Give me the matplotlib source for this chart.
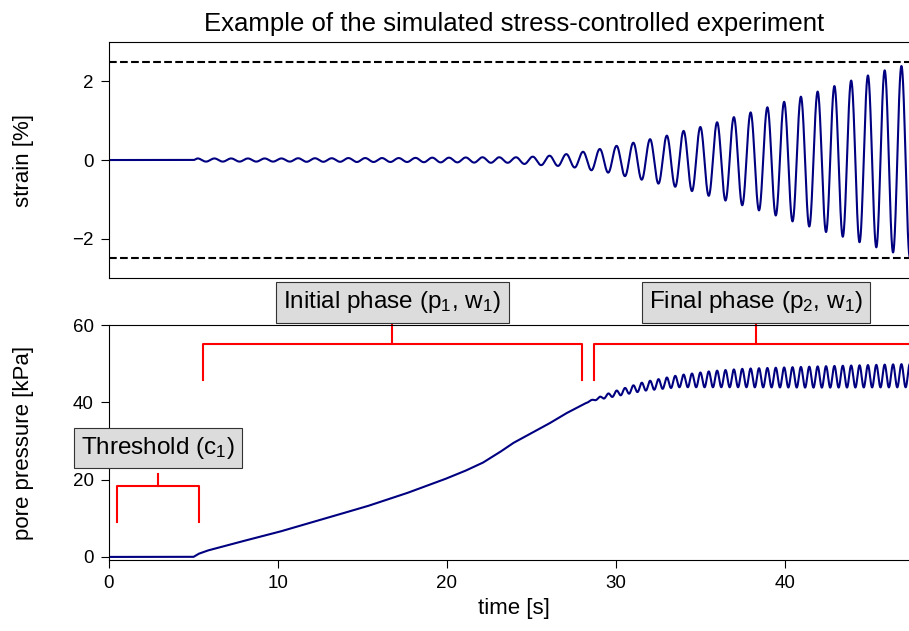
import numpy as np
import matplotlib
matplotlib.use("Agg")
import matplotlib.pyplot as plt
from itertools import zip_longest

plt.rcParams['font.family'] = ['Liberation Sans', 'DejaVu Sans']
plt.rcParams['mathtext.default'] = 'regular'

# strain: loading starts at 5 s, one cycle per period, peak / trough of each cycle [%]
t_load = 5.0
period = 0.992
strain_peaks = [0.04, 0.04, 0.04, 0.04, 0.04, 0.04, 0.045, 0.045, 0.045, 0.05,
                0.05, 0.05, 0.05, 0.055, 0.06, 0.06, 0.065, 0.07,
                0.07, 0.07, 0.085, 0.11, 0.15, 0.21, 0.28, 0.36, 0.44, 0.53,
                0.62, 0.74, 0.84, 0.96, 1.09, 1.21, 1.34, 1.48, 1.61, 1.74,
                1.88, 2.02, 2.15, 2.28, 2.39, 2.5]
strain_troughs = [-0.04, -0.04, -0.04, -0.04, -0.04, -0.04, -0.045, -0.045, -0.045, -0.05,
                  -0.05, -0.05, -0.05, -0.055, -0.06, -0.06, -0.065, -0.07,
                  -0.07, -0.10, -0.13, -0.15, -0.19, -0.26, -0.32, -0.41, -0.50, -0.60,
                  -0.68, -0.79, -0.91, -1.03, -1.15, -1.28, -1.41, -1.56, -1.69, -1.83,
                  -1.95, -2.09, -2.22, -2.35, -2.47]
strain_limit = 2.5

# pore pressure: lower / upper envelope of the signal [kPa]
pp_time = [0, 5, 5.3, 5.8, 7.5, 10, 12.5, 15.2, 17.5, 19.75, 21.0, 22.1, 23.1, 23.9,
           25.0, 26.05, 27.0, 28.0, 28.5, 29.8, 31.7, 33.7, 35.7, 37.6, 42, 48]
pp_low = [0, 0, 0.8, 1.6, 3.6, 6.4, 9.6, 13.0, 16.3, 19.9, 22.1, 24.3, 27.0, 29.4,
          32.0, 34.5, 37.0, 39.3, 40.3, 41.4, 43.0, 43.9, 43.9, 43.9, 43.8, 43.9]
pp_high = [0, 0, 0.8, 1.6, 3.6, 6.4, 9.6, 13.0, 16.3, 19.9, 22.1, 24.3, 27.0, 29.4,
           32.0, 34.5, 37.0, 39.3, 40.5, 42.7, 45.3, 47.0, 48.1, 48.7, 49.3, 50.0]

# phase brackets: label, start, end, bar level, leg bottom, stem top, box position
phase_labels = ['Threshold ($c_1$)', 'Initial phase ($p_1$, $w_1$)', 'Final phase ($p_2$, $w_1$)']
phase_start = [0.5, 5.55, 28.7]
phase_end = [5.3, 28.0, 47.9]
bar_level = [18.4, 55.0, 55.0]
leg_bottom = [9.1, 45.7, 45.7]
stem_top = [21.4, 60.0, 60.0]
box_y = [28.2, 65.9, 65.9]

t = np.linspace(0, 48, 9601)

# strain curve: half-cosine segments between successive extremes
ext_val = [0.0]
for a, b in zip_longest(strain_peaks, strain_troughs):
    ext_val += [v for v in (a, b) if v is not None]
ext_t = [t_load] + [t_load + period / 4 + i * period / 2 for i in range(len(ext_val) - 1)]
ext_t = np.array(ext_t)
ext_val = np.array(ext_val)
strain = np.zeros_like(t)
idx = np.searchsorted(ext_t, t) - 1
ok = (idx >= 0) & (idx < len(ext_t) - 1)
i0 = idx[ok]
s = (t[ok] - ext_t[i0]) / (ext_t[i0 + 1] - ext_t[i0])
strain[ok] = ext_val[i0] + (ext_val[i0 + 1] - ext_val[i0]) * (1 - np.cos(np.pi * s)) / 2

# pore pressure oscillates at twice the loading frequency
lo = np.interp(t, pp_time, pp_low)
hi = np.interp(t, pp_time, pp_high)
osc = (1 - np.cos(2 * np.pi * (t - t_load) / (period / 2))) / 2
pp = lo + (hi - lo) * osc

fig = plt.figure(figsize=(9.09, 6.31), dpi=100)
ax1 = fig.add_axes([0.1199, 0.5594, 0.892, 0.374])
ax2 = fig.add_axes([0.1199, 0.1125, 0.892, 0.3724])

ax1.plot(t, strain, color='navy', lw=1.5)
ax1.axhline(strain_limit, color='k', ls='--', lw=1.5)
ax1.axhline(-strain_limit, color='k', ls='--', lw=1.5)
ax1.set_xlim(0, 48)
ax1.set_ylim(-3, 3)
ax1.set_yticks([-2, 0, 2])
ax1.tick_params(axis='x', bottom=False, labelbottom=False)
ax1.set_ylabel('strain [%]', fontsize=16)
ax1.set_title('Example of the simulated stress-controlled experiment', fontsize=18.5, pad=8)

ax2.plot(t, pp, color='navy', lw=1.5)
ax2.set_xlim(0, 48)
ax2.set_ylim(-0.8, 60)
ax2.set_yticks([0, 20, 40, 60])
ax2.set_xticks([0, 10, 20, 30, 40])
ax2.set_xlabel('time [s]', fontsize=16)
ax2.set_ylabel('pore pressure [kPa]', fontsize=16)

for ax in (ax1, ax2):
    ax.tick_params(labelsize=13.5, length=6, pad=5)
    ax.yaxis.set_label_coords(-0.092, 0.5)

for lab, x0, x1, yb, yl, ys, yt in zip(phase_labels, phase_start, phase_end,
                                       bar_level, leg_bottom, stem_top, box_y):
    xm = (x0 + x1) / 2
    ax2.plot([x0, x0, x1, x1], [yl, yb, yb, yl], color='red', lw=1.5, clip_on=False)
    ax2.plot([xm, xm], [yb, ys], color='red', lw=1.5, clip_on=False)
    ax2.text(xm, yt, lab, fontsize=17.5, ha='center', va='center',
             bbox=dict(boxstyle='square,pad=0.3', facecolor='#dcdcdc',
                       edgecolor='#333333', lw=0.8))

fig.savefig('out.png', dpi=100)
